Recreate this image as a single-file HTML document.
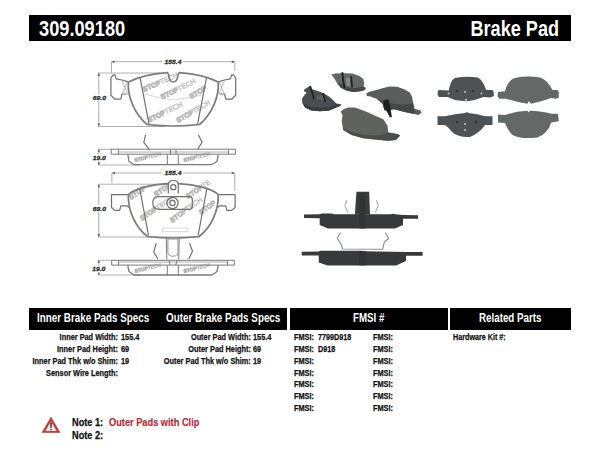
<!DOCTYPE html>
<html><head><meta charset="utf-8">
<style>
html,body{margin:0;padding:0;background:#fff;width:600px;height:464px;overflow:hidden;position:relative}
.t{position:absolute;font-family:"Liberation Sans",sans-serif;font-weight:bold;line-height:1;white-space:nowrap;transform-origin:0 0;color:#111;-webkit-text-stroke:0.25px #111}
.w{-webkit-text-stroke:0}
.r{transform-origin:100% 0}
.bar{position:absolute;background:#000}
.w{color:#fff}
svg{position:absolute;left:0;top:0}
</style></head><body>
<div class="bar" style="left:29px;top:15px;width:542px;height:26px"></div>
<div class="t w" style="left:38.8px;top:18px;font-size:22.5px;transform:scaleX(0.81)">309.09180</div>
<div class="t w r" style="right:41px;top:18px;font-size:22.5px;transform:scaleX(0.805)">Brake Pad</div>

<svg width="600" height="464" viewBox="0 0 600 464">
<g fill="none" stroke="#b0b0b0" stroke-width="1">
<!-- drawing 1 dims -->
<path d="M111.5,61.7H234.8M111.5,61.7V73M234.8,61.7V71M98,73H160M98,126.5H165M98.8,73V126.5"/>
<path d="M98,149.3H112M98,165H140M98.8,149.3V165"/>
<!-- drawing 2 dims -->
<path d="M111.9,173H234.8M111.9,173V183M234.8,173V191M98,184.2H168M98,237H200M98.8,184.2V237"/>
<path d="M98,260.3H112M98,275H140M98.8,260.3V275"/>
</g>
<g fill="#555">
<path d="M111.5,61.7l3,-1.2v2.4z M234.8,61.7l-3,-1.2v2.4z M98.8,73l-1.2,3h2.4z M98.8,126.5l-1.2,-3h2.4z"/>
<path d="M111.9,173l3,-1.2v2.4z M234.8,173l-3,-1.2v2.4z M98.8,184.2l-1.2,3h2.4z M98.8,237l-1.2,-3h2.4z"/>
<path d="M98.8,149.3l-1.2,2.4h2.4z M98.8,165l-1.2,-2.4h2.4z M98.8,260.3l-1.2,2.4h2.4z M98.8,275l-1.2,-2.4h2.4z"/>
</g>
<!-- photos -->
<g stroke-linejoin="round">
<!-- Pad A back side left -->
<path fill="#4b4e50" d="M303.9,89.8 L305.8,88.6 L309.7,85.9 L310.9,85.9 L311.7,89 L313.7,89.8 L319.9,91.7 L323.8,93.3 L329.3,96.8 L332.5,99.6 L336.4,103.5 L341.1,104.3 L340.7,105.8 L337.2,107 L334,108.6 L329.3,110.5 L319.9,111.3 L311.3,110.5 L305,107.4 L302.3,102.7 L301.9,98.8 L304.3,95.3 L306.6,92.5 L304.3,91.4 Z"/>
<path fill="#3b3d3f" d="M302.3,102.7 L305,107.4 L311.3,110.5 L319.9,111.3 L329.3,110.5 L334,108.6 L337.2,107 L340.7,105.8 L336,104.5 L330,106.5 L320,107.5 L311,106.5 L305,104 Z"/>
<path fill="#5c5f60" d="M316,95.5 L323.5,95 L324.5,99.5 L317,100 Z"/>
<path fill="none" stroke="#1f2022" stroke-width="1.6" stroke-linecap="round" d="M310.3,86.5 L312,92 L313.8,98.5 M323.2,93.8 L325.2,101.5"/>
<!-- Pad B back top -->
<path fill="#636766" d="M331.3,74.8 L336,73.2 L339.1,73.6 L342.2,72.4 L343.8,73.2 L352.4,73.6 L359.5,76 L363.4,79.1 L364.2,84.6 L363.4,86.5 L365.7,88.1 L364.9,90.1 L360.2,91.2 L353.2,92 L346.9,90.8 L340.7,87.7 L336.7,82.2 L333.6,77.5 Z"/>
<path fill="#454848" d="M336.7,82.2 L340.7,87.7 L346.9,90.8 L353.2,92 L360.2,91.2 L364.9,90.1 L365.7,88.1 L363.4,86.5 L356,88 L348,87.5 L341,84 Z"/>
<path fill="#9ea3a1" opacity="0.6" d="M346,78 L350,77.5 L350.5,86 L346.5,86 Z"/>
<path fill="none" stroke="#1f2022" stroke-width="1.8" stroke-linecap="round" d="M342.5,73 L343,80 L344.5,87 M351.2,77 L352,86.5"/>
<!-- Pad D friction right -->
<path fill="#5a5d5b" d="M366.3,93.7 L368.4,92.1 L372.7,91.1 L383.3,87.9 L389.7,86.5 L397.2,86.8 L404.7,89.5 L410,92.7 L412.1,96.9 L413.2,103.3 L414.3,108.7 L420.1,110.3 L421.7,112.4 L418.5,115.1 L414.3,114 L404.7,111.9 L394,109.2 L390.8,109.7 L386.5,110.8 L384.4,109.7 L382.3,103.3 L376.9,99.1 L370.5,96.4 L366.8,95.9 Z"/>
<path fill="#454847" d="M376.9,99.1 L382.3,103.3 L384.4,109.7 L386.5,110.8 L390.8,109.7 L394,109.2 L404.7,111.9 L414.3,114 L414.3,108.7 L413.2,103.3 L405,104.5 L394,104 L385,101.5 Z"/>
<path fill="#1f2022" d="M383.5,100 L388.5,99.5 L390,105 L391.9,117.2 L389.7,117.2 L386.5,110.8 L384.4,109.7 Z"/>
<!-- Pad C friction bottom -->
<path fill="#5f625f" d="M340.8,111.7 L343.3,109.2 L348.3,107.5 L355,107.5 L368.3,112.5 L375,115.8 L383.3,119.2 L387.5,125.8 L388.3,132.5 L392.5,133.3 L398.3,134.2 L400,135.8 L395.8,140 L388.3,140.8 L380,140 L363.3,138.3 L351.7,135 L343.3,130 L341.7,121.7 L342.5,115 Z"/>
<path fill="#4a4d4c" d="M342.8,127.5 L343.3,130 L351.7,135 L363.3,138.3 L380,140 L388.3,140.8 L395.8,140 L400,135.8 L398.3,134.2 L392.5,133.3 L388.3,132.5 L380,135.5 L365,135 L352,132 L345,129 Z"/>
<!-- Right group -->
<!-- Pad E -->
<path fill="#4e5255" d="M438.5,90 L448.75,90.5 Q450.5,80 455,78 Q466,75.8 477.5,77.5 Q482,78.5 486.25,90 L492.5,90 L493.8,92.5 L493.8,96.3 L490,97.5 L483.75,97 Q476,100 467.5,101.3 Q460,101 455,100 Q451,98.5 447.5,97 L438.75,97 L437.5,93.75 Z"/>
<g fill="#d0d0d0"><circle cx="448.5" cy="93.5" r="0.9"/><circle cx="465" cy="92" r="0.9"/><circle cx="481.5" cy="93.5" r="0.9"/><circle cx="466" cy="99.7" r="1"/></g>
<g fill="#2e3032"><circle cx="457" cy="91" r="1.3"/><circle cx="473" cy="91" r="1.3"/></g>
<!-- Pad F -->
<path fill="#646867" d="M498,92 L505,91.25 Q508,80 515,78 Q527,75.5 540,77.5 Q547.5,80 552.5,90 L557.5,90 L558.75,92 L558.75,97.5 L556.25,98.75 L551.25,98 Q540,102 531.25,103.75 L528.75,101.25 L527.5,103.75 Q515,102 506.25,98.75 L499.5,98.75 L497.5,96.25 Z"/>
<!-- Pad G -->
<path fill="#4e5255" d="M437.5,116.25 L445,116.25 Q455,113.8 465,113 L467,112 L468.5,113 Q480,114.5 485,116.25 L492.5,116.25 L492.5,125 L485,125 Q480,132.5 470,137 Q457,137.5 451.25,131.25 Q447.5,126.3 445,125 L437.5,125 Z"/>
<g fill="#d0d0d0"><circle cx="465" cy="124" r="0.9"/><circle cx="465" cy="130" r="0.9"/></g>
<g fill="#2e3032"><circle cx="457" cy="122" r="1.3"/><circle cx="476" cy="122" r="1.3"/></g>
<!-- Pad H -->
<path fill="#646867" d="M498,114.5 L505,115 Q515,111.3 527.5,110.75 L528.5,112.5 L529.8,110.8 Q542,111.3 551.25,113.75 L558,113.75 L558.75,121.25 L551.25,122.5 Q547.5,133.8 537.5,137.5 Q520,139.5 512.5,135 Q507.5,130 505,123 L498,122.5 Z"/>
<!-- side photo 1 -->
<path fill="#3a3b3d" d="M356.4,191.8 L369.2,191.8 L370,214.5 L354.9,214.5 Z"/>
<path fill="#38393b" d="M304,214.4 L319.7,214.2 L322,213.6 L332,213.6 L334,214.2 L391,214.3 L393,213.8 L397,214.4 L403,215 L418,215.3 L418.2,218.7 L403,218.7 L403,225 L395,228.4 L328,228.6 L319.7,225 L319.7,218.2 L304,218.1 Z"/>
<path fill="#323335" d="M359.4,193 H365.4 V228.5 H359.4 Z"/>
<path fill="none" stroke="#a0a0a0" stroke-width="1" d="M347,200.2 L344.8,205.6 L348,212.5 M376.3,200.2 L378.4,205.6 L375.2,212.5"/>
<!-- side photo 2 -->
<path fill="#38393b" d="M301.7,251.7 L318.75,251.6 L320,250.8 L362,250.8 L364,251.3 L406,251.9 L422.6,252 L422.6,255.7 L406,255.7 L406,261.1 L396.2,265.4 L327.5,265.4 L318.75,262.5 L318.75,255.4 L301.7,255.4 Z"/>
<path fill="#323335" d="M359.5,251 H365.5 V265.4 H359.5 Z"/>
<path fill="none" stroke="#8a8a8a" stroke-width="1.1" d="M340.5,232.6 L337.3,238 L341.6,245.6 L342.7,249 L382.7,249.2 L384.3,242.2 L388.6,238.5 L385.4,232.5"/>
<!-- watermark -->
<g font-family="Liberation Sans" font-weight="bold" font-size="7" fill="none" stroke="#b4b4b4" stroke-width="0.6">
<text transform="translate(144,92) rotate(-24)"><tspan stroke-width="0.8">STOP</tspan><tspan font-weight="normal" stroke-width="0.45">TECH</tspan></text>
<text transform="translate(162,99.5) rotate(-26)"><tspan stroke-width="0.8">STOP</tspan><tspan font-weight="normal" stroke-width="0.45">TECH</tspan></text>
<text transform="translate(191,99) rotate(-30)"><tspan stroke-width="0.8">STOP</tspan></text>
<text transform="translate(149,122.5) rotate(-26)"><tspan stroke-width="0.8">STOP</tspan><tspan font-weight="normal" stroke-width="0.45">TECH</tspan></text>
<text transform="translate(178,123) rotate(-30)"><tspan stroke-width="0.8">STOP</tspan><tspan font-weight="normal" stroke-width="0.45">TECH</tspan></text>
<text transform="translate(142,221) rotate(-34)"><tspan stroke-width="0.8">STOP</tspan><tspan font-weight="normal" stroke-width="0.45">TECH</tspan></text>
<text transform="translate(172,223) rotate(-36)"><tspan stroke-width="0.8">STOP</tspan><tspan font-weight="normal" stroke-width="0.45">TECH</tspan></text>
<text transform="translate(188,199) rotate(-34)"><tspan stroke-width="0.8">STOP</tspan><tspan font-weight="normal" stroke-width="0.45">TE</tspan></text>
<text transform="translate(156,197) rotate(-34)"><tspan stroke-width="0.8">STOP</tspan></text>
<text transform="translate(201,215) rotate(-36)"><tspan stroke-width="0.8">STOP</tspan></text>
<text transform="translate(131,200) rotate(-34)"><tspan stroke-width="0.8">STOP</tspan></text>
<text font-size="5" transform="translate(135,162) rotate(-14)"><tspan stroke-width="0.8">STOP</tspan><tspan font-weight="normal" stroke-width="0.45">TECH</tspan></text>
<text font-size="5" transform="translate(184,162) rotate(-14)"><tspan stroke-width="0.8">STOP</tspan><tspan font-weight="normal" stroke-width="0.45">TECH</tspan></text>
<text font-size="5" transform="translate(135,273) rotate(-14)"><tspan stroke-width="0.8">STOP</tspan><tspan font-weight="normal" stroke-width="0.45">TECH</tspan></text>
<text font-size="5" transform="translate(184,273) rotate(-14)"><tspan stroke-width="0.8">STOP</tspan><tspan font-weight="normal" stroke-width="0.45">TECH</tspan></text>
</g>
<g fill="none" stroke="#c0c0c0" stroke-width="0.6">
<path d="M144.5,94 Q160,98.5 173,100 Q188,98.5 203,94.7"/>
<path d="M162.5,228 H188 V231.7 H162.5 Z"/>
</g>
<!-- pad drawing 1 -->
<g fill="none" stroke="#707070" stroke-width="1.2" stroke-linejoin="round">
<path d="M128.4,81.8 L122,80 L116.2,78.8 L115,74.8 L113,75.2 L110.9,78 L110.9,95.2 L115,99.2 L120.8,99.2 L122,94 L127.3,94"/>
<path d="M218.2,81.8 L224.6,80 L230.4,78.8 L231.6,74.8 L233.6,75.2 L235.7,78 L235.7,95.2 L231.6,99.2 L225.8,99.2 L224.6,94 L219.3,94"/>
<path stroke="#a8a8a8" stroke-width="0.8" d="M122,80.5 L127.5,93.5 M127.5,81.5 L122.5,93.5 M224.6,80.5 L219.1,93.5 M219.1,81.5 L224.1,93.5"/>
<path stroke-width="1.7" stroke="#7c7c7c" d="M128.4,82 C136,78 150,74 167.2,72.6 Q168.4,73 168.8,76 Q169.5,82 173.3,82 Q177.1,82 177.8,76 Q178.2,73 179.4,72.6 C196.6,74 210.6,78 218.2,82 C219.5,96 212,114 199.5,124.5 Q173.3,127.5 147.1,124.5 C134.6,114 127.1,96 128.4,82 Z"/>
<path d="M140.1,77.7 L149,124 M206.5,77.7 L197.6,124"/>
</g>
<!-- side 1 -->
<g fill="none" stroke="#7a7a7a" stroke-width="1" stroke-linejoin="round">
<path d="M111.2,149.2 H235.4 V154.2 H111.2 Z M118.3,149.5 V154.4 M228.6,149.5 V154.4"/><path stroke="#9a9a9a" stroke-width="0.8" d="M118.3,152 H228.6"/>
<path stroke-width="1.3" d="M127.8,154.5 L129,161.5 L134.5,164.7 H211.5 L217,161.5 L218.2,154.5"/>
<path d="M167.3,154.4 V164.6 M178.3,154.4 V164.6 M170.5,149.5 V154.6 M176,149.5 V154.6"/>
<path stroke="#666" stroke-width="1.1" d="M145.5,135 L143.8,142.3 L149.3,149.5 M198.5,135 L202,142.3 L197.5,149.5"/>
</g>
<!-- pad drawing 2 -->
<g fill="none" stroke="#707070" stroke-width="1.2" stroke-linejoin="round">
<path d="M128.4,194.7 H111.5 V207.5 L115,210.4 H119.7 L120.8,205.8 H127 L129,207.5"/>
<path d="M218.2,194.7 H235.1 V207.5 L231.6,210.4 H226.9 L225.8,205.8 H219.6 L217.6,207.5"/>
<path stroke-width="1.7" stroke="#7c7c7c" d="M128.4,194.5 C134,189 150,184.5 168.3,183.6 L178.3,183.6 C196.6,184.5 212.6,189 218.2,194.5 C219,210 211,228 199,236.5 Q173.3,239.5 147.6,236.5 C135.6,228 127.6,210 128.4,194.5 Z"/>
<path d="M139.8,188.8 L148.5,235.5 M206.8,188.8 L198.1,235.5"/>
<path fill="#fff" d="M168.3,193.5 V185 Q168.3,180.5 173.3,180.5 Q178.3,180.5 178.3,185 V193.5"/>
<circle cx="173.3" cy="187.3" r="2.6"/>
<path d="M159,196.7 H189.5 Q192.3,196.7 192.3,199.5 V206.5 Q192.3,209.3 189.5,209.3 H159 Q152.8,209.3 152.8,203 Q152.8,196.7 159,196.7 Z"/>
<circle cx="172.5" cy="203" r="5.6"/>
<circle cx="172.5" cy="203" r="2.6"/>
</g>
<!-- side 2 -->
<g fill="none" stroke="#7a7a7a" stroke-width="1" stroke-linejoin="round">
<path d="M111.7,260.3 H234.3 V265.1 H111.7 Z M118.5,260.3 V265.1 M227.5,260.3 V265.1"/>
<path stroke="#9a9a9a" stroke-width="0.8" d="M118.5,262 H227.5"/>
<path stroke-width="1.3" d="M127.7,265.2 L129,271.5 L134,275 H212 L217,271.5 L218.3,265.2"/>
<path d="M167.3,265.2 V275.2 M178.3,265.2 V275.2 M169,260.3 L170.3,265.1 M177,260.3 L175.7,265.1"/>
<path d="M166.3,237.8 L166.8,259.5 M179.2,237.8 L178.7,259.5"/>
<path stroke="#9a9a9a" d="M167.9,239 V252.5 Q167.9,256.2 173,256.2 Q177.9,256.2 177.9,252.5 V239 H167.9"/>
<path stroke="#666" stroke-width="1.1" d="M156.25,243.2 L153.75,252 L157.9,259 M189.6,243.2 L192.5,251.2 L188.75,259"/>
</g>

<!-- dimension labels -->
<g font-family="Liberation Sans" font-weight="bold" font-style="italic" font-size="6" fill="#2a2a2a" stroke="#2a2a2a" stroke-width="0.3" text-anchor="middle">
<rect x="162.5" y="58" width="20.5" height="7.5" fill="#fff" stroke="none"/>
<text transform="translate(173,64.4) scale(1.12,1)">155.4</text>
<rect x="91.5" y="94" width="15" height="7" fill="#fff" stroke="none"/>
<text transform="translate(99.4,99.9) scale(1.12,1)">69.0</text>
<rect x="91.5" y="154" width="15" height="7" fill="#fff" stroke="none"/>
<text transform="translate(99.2,159.8) scale(1.12,1)">19.0</text>
<rect x="162.5" y="169.3" width="20.5" height="7.5" fill="#fff" stroke="none"/>
<text transform="translate(173,174.8) scale(1.12,1)">155.4</text>
<rect x="91.5" y="205" width="15" height="7" fill="#fff" stroke="none"/>
<text transform="translate(99.4,210.6) scale(1.12,1)">69.0</text>
<rect x="91.5" y="265.5" width="15" height="7" fill="#fff" stroke="none"/>
<text transform="translate(98.8,271.3) scale(1.12,1)">19.0</text>
</g>
<!-- warning -->
<g>
<path d="M51,417.2 L60,432.5 L42,432.5 Z" fill="#c83838" stroke="#c83838" stroke-width="0.6" stroke-linejoin="round"/>
<path d="M51,421.3 L56.6,430.9 L45.4,430.9 Z" fill="#fbecec"/>
<path d="M50.1,422.5 H51.9 L51.6,428.3 H50.4 Z" fill="#333"/>
<rect x="50.3" y="429" width="1.4" height="1.3" fill="#333"/>
</g>
</svg>


<!-- table headers -->
<div class="bar" style="left:29px;top:308px;width:258px;height:22px"></div>
<div class="bar" style="left:290px;top:308px;width:158px;height:22px"></div>
<div class="bar" style="left:450px;top:308px;width:121px;height:22px"></div>
<div class="t w" style="left:37px;top:311.9px;font-size:12px;transform:scaleX(0.82)">Inner Brake Pads Specs</div>
<div class="t w" style="left:166px;top:311.9px;font-size:12px;transform:scaleX(0.82)">Outer Brake Pads Specs</div>
<div class="t w" style="left:353px;top:311.9px;font-size:12px;transform:scaleX(0.81)">FMSI #</div>
<div class="t w" style="left:479px;top:311.9px;font-size:12px;transform:scaleX(0.815)">Related Parts</div>

<!-- inner specs -->
<div class="t r" style="right:482px;top:333.3px;font-size:8.7px;transform:scaleX(0.846)">Inner Pad Width:</div>
<div class="t r" style="right:482px;top:345.05px;font-size:8.7px;transform:scaleX(0.846)">Inner Pad Height:</div>
<div class="t r" style="right:482px;top:356.8px;font-size:8.7px;transform:scaleX(0.846)">Inner Pad Thk w/o Shim:</div>
<div class="t r" style="right:482px;top:368.55px;font-size:8.7px;transform:scaleX(0.846)">Sensor Wire Length:</div>
<div class="t" style="left:121px;top:333.3px;font-size:8.7px;transform:scaleX(0.846)">155.4</div>
<div class="t" style="left:121px;top:345.05px;font-size:8.7px;transform:scaleX(0.846)">69</div>
<div class="t" style="left:121px;top:356.8px;font-size:8.7px;transform:scaleX(0.846)">19</div>

<!-- outer specs -->
<div class="t r" style="right:349px;top:333.3px;font-size:8.7px;transform:scaleX(0.846)">Outer Pad Width:</div>
<div class="t r" style="right:349px;top:345.05px;font-size:8.7px;transform:scaleX(0.846)">Outer Pad Height:</div>
<div class="t r" style="right:349px;top:356.8px;font-size:8.7px;transform:scaleX(0.846)">Outer Pad Thk w/o Shim:</div>
<div class="t" style="left:253px;top:333.3px;font-size:8.7px;transform:scaleX(0.846)">155.4</div>
<div class="t" style="left:253px;top:345.05px;font-size:8.7px;transform:scaleX(0.846)">69</div>
<div class="t" style="left:253px;top:356.8px;font-size:8.7px;transform:scaleX(0.846)">19</div>

<!-- FMSI -->
<div class="t" style="left:293.5px;top:333.3px;font-size:8.7px;transform:scaleX(0.846)">FMSI:</div>
<div class="t" style="left:293.5px;top:345.05px;font-size:8.7px;transform:scaleX(0.846)">FMSI:</div>
<div class="t" style="left:293.5px;top:356.8px;font-size:8.7px;transform:scaleX(0.846)">FMSI:</div>
<div class="t" style="left:293.5px;top:368.55px;font-size:8.7px;transform:scaleX(0.846)">FMSI:</div>
<div class="t" style="left:293.5px;top:380.3px;font-size:8.7px;transform:scaleX(0.846)">FMSI:</div>
<div class="t" style="left:293.5px;top:392.05px;font-size:8.7px;transform:scaleX(0.846)">FMSI:</div>
<div class="t" style="left:293.5px;top:403.8px;font-size:8.7px;transform:scaleX(0.846)">FMSI:</div>
<div class="t" style="left:317.5px;top:333.3px;font-size:8.7px;transform:scaleX(0.828)">7799D918</div>
<div class="t" style="left:317.5px;top:345.05px;font-size:8.7px;transform:scaleX(0.828)">D918</div>
<div class="t" style="left:372.5px;top:333.3px;font-size:8.7px;transform:scaleX(0.846)">FMSI:</div>
<div class="t" style="left:372.5px;top:345.05px;font-size:8.7px;transform:scaleX(0.846)">FMSI:</div>
<div class="t" style="left:372.5px;top:356.8px;font-size:8.7px;transform:scaleX(0.846)">FMSI:</div>
<div class="t" style="left:372.5px;top:368.55px;font-size:8.7px;transform:scaleX(0.846)">FMSI:</div>
<div class="t" style="left:372.5px;top:380.3px;font-size:8.7px;transform:scaleX(0.846)">FMSI:</div>
<div class="t" style="left:372.5px;top:392.05px;font-size:8.7px;transform:scaleX(0.846)">FMSI:</div>
<div class="t" style="left:372.5px;top:403.8px;font-size:8.7px;transform:scaleX(0.846)">FMSI:</div>

<div class="t" style="left:452.5px;top:333.3px;font-size:8.7px;transform:scaleX(0.828)">Hardware Kit #:</div>

<!-- notes -->
<div class="t" style="left:72px;top:416.8px;font-size:10.5px;transform:scaleX(0.875)">Note 1:</div>
<div class="t" style="left:72px;top:429.7px;font-size:10.5px;transform:scaleX(0.875)">Note 2:</div>
<div class="t" style="left:108.5px;top:416.8px;font-size:10.5px;transform:scaleX(0.88);color:#b92e38;-webkit-text-stroke:0.2px #b92e38">Outer Pads with Clip</div>

</body></html>
